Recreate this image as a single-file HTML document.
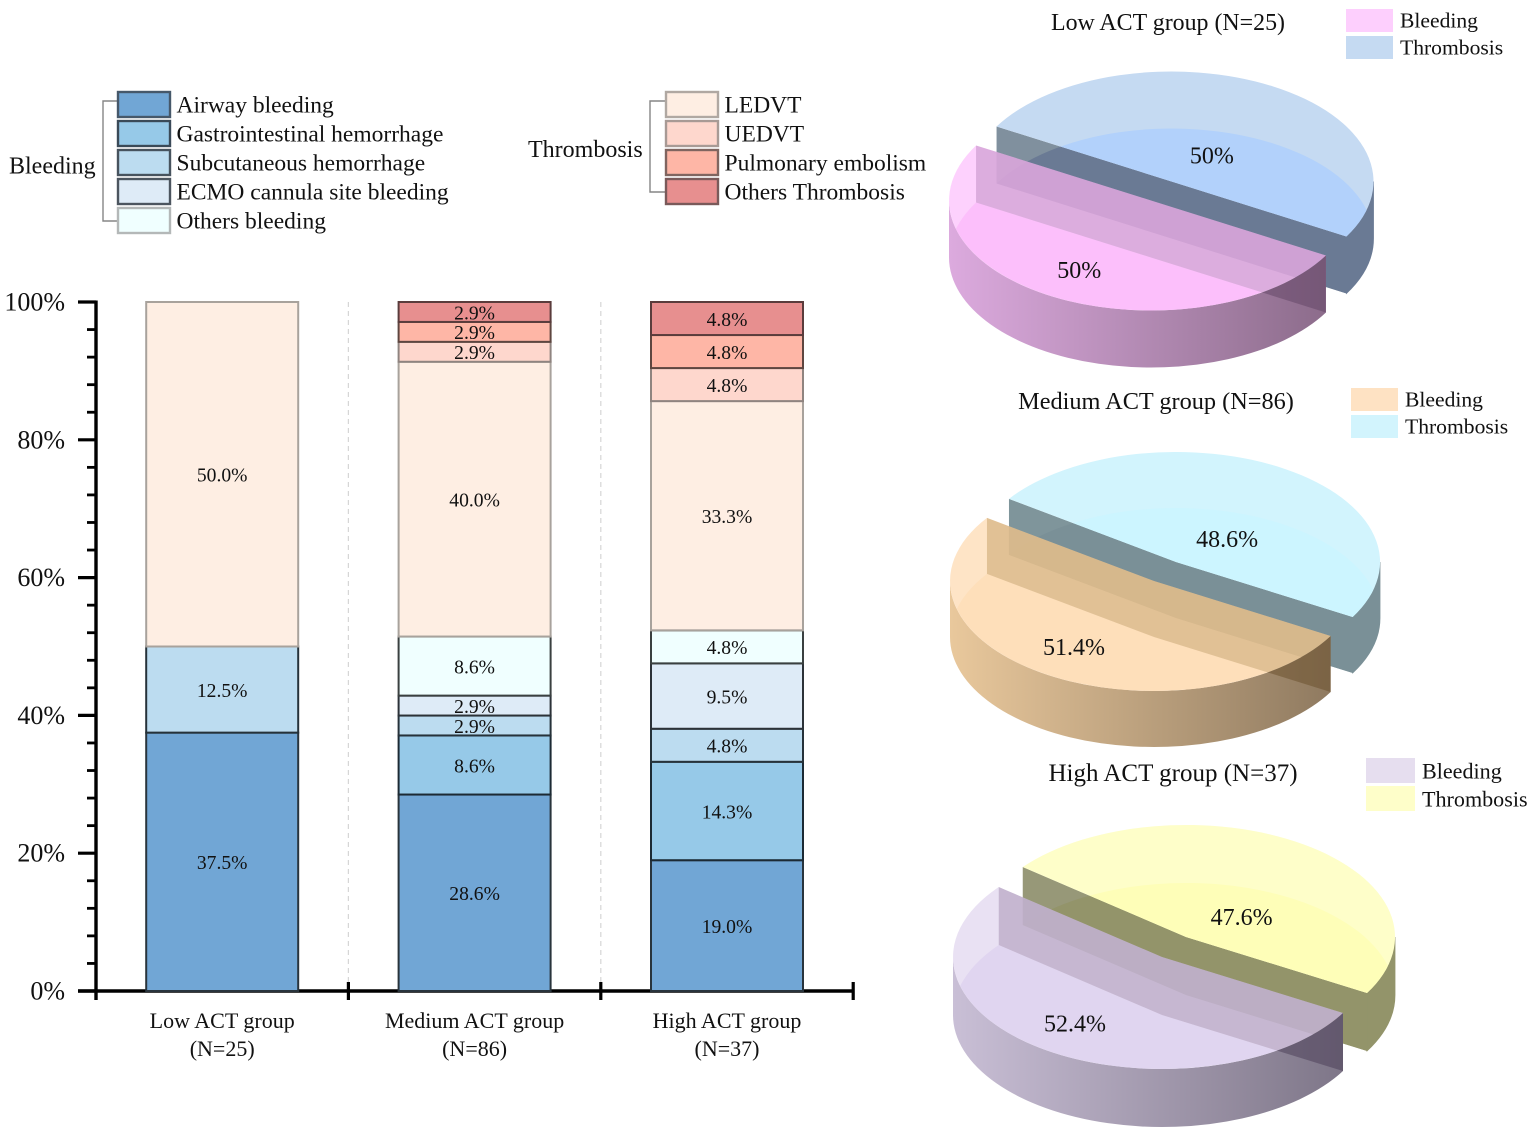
<!DOCTYPE html>
<html lang="en">
<head>
<meta charset="utf-8">
<title>Bleeding and thrombosis by ACT group</title>
<style>
html,body{margin:0;padding:0;background:#fff;}
svg{display:block;font-family:"Liberation Serif","Times New Roman",serif;fill:#111;filter:blur(.3px);}
</style>
</head>
<body>
<svg id="chart" xmlns="http://www.w3.org/2000/svg" width="1535" height="1138" viewBox="0 0 1535 1138"></svg>
<script>
// ---- stacked bar data ----
const categories = ['Low ACT group', 'Medium ACT group', 'High ACT group'];
const categoryCounts = ['(N=25)', '(N=86)', '(N=37)'];
const airwayBleeding = [37.5, 28.6, 19.0];
const gastrointestinalHemorrhage = [0, 8.6, 14.3];
const subcutaneousHemorrhage = [12.5, 2.9, 4.8];
const ecmoCannulaBleeding = [0, 2.9, 9.5];
const othersBleeding = [0, 8.6, 4.8];
const ledvt = [50.0, 40.0, 33.3];
const uedvt = [0, 2.9, 4.8];
const pulmonaryEmbolism = [0, 2.9, 4.8];
const othersThrombosis = [0, 2.9, 4.8];
const yTickValues = [0, 20, 40, 60, 80, 100];
const yMinorTickValues = [4, 8, 12, 16, 24, 28, 32, 36, 44, 48, 52, 56, 64, 68, 72, 76, 84, 88, 92, 96];
const bleedingLegendLabels = ['Airway bleeding', 'Gastrointestinal hemorrhage', 'Subcutaneous hemorrhage', 'ECMO cannula site bleeding', 'Others bleeding'];
const thrombosisLegendLabels = ['LEDVT', 'UEDVT', 'Pulmonary embolism', 'Others Thrombosis'];
// ---- pie data ----
const pieTitles = ['Low ACT group (N=25)', 'Medium ACT group (N=86)', 'High ACT group (N=37)'];
const pieBleedingShare = [50, 51.4, 52.4];
const pieThrombosisShare = [50, 48.6, 47.6];
const pieLegendLabels = ['Bleeding', 'Thrombosis'];

const stackSeries = [airwayBleeding, gastrointestinalHemorrhage, subcutaneousHemorrhage, ecmoCannulaBleeding, othersBleeding, ledvt, uedvt, pulmonaryEmbolism, othersThrombosis];
const stackNames = ['airway-bleeding', 'gastrointestinal-hemorrhage', 'subcutaneous-hemorrhage', 'ecmo-cannula-bleeding', 'others-bleeding', 'ledvt', 'uedvt', 'pulmonary-embolism', 'others-thrombosis'];
const stackFills = ['#71a6d5', '#96c9e8', '#bcdcf0', '#deebf7', '#f0ffff', '#feeee3', '#fed7cd', '#feb6a6', '#e78f8f'];
const stackStrokes = ['#29343c', '#1c2a34', '#26323a', '#2c3238', '#3a4040', '#a8a29c', '#8f8480', '#5e4640', '#5a3c3c'];
const legendStrokes = ['#46586a', '#3a4a58', '#47535e', '#4c555f', '#b4b8b8', '#b0a8a2', '#a89a95', '#806560', '#7a5a5a'];

const NS = 'http://www.w3.org/2000/svg';
const svg = document.getElementById('chart');
function mk(tag, attrs, parent) {
  const el = document.createElementNS(NS, tag);
  for (const k in attrs) el.setAttribute(k, attrs[k]);
  (parent || svg).appendChild(el);
  return el;
}
function txt(str, attrs, parent) {
  const el = mk('text', attrs, parent);
  el.textContent = str;
  return el;
}

// ---- axes ----
const Y0 = 991, Y100 = 302, XL = 96, BAND = 252.4, BARW = 152;
function yScale(v) { return Y0 - (Y0 - Y100) * v / 100; }
function xCenter(i) { return XL + BAND * (i + 0.5); }
function xEdge(i) { return XL + BAND * i; }

const axisGroup = mk('g', {});



// dashed separators
for (let i = 1; i < categories.length; i++) {
  const sep = mk('line', {x1: xEdge(i), x2: xEdge(i), y1: Y100, y2: Y0, stroke: '#d6d6d6', 'stroke-width': 1.2, 'stroke-dasharray': '5 4'}, axisGroup);
  
  
}

// bars
const barsGroup = mk('g', {});


categories.forEach(function (cat, c) {
  let total = 0;
  stackSeries.forEach(function (s) { total += s[c]; });
  let cum = 0;
  const x = xCenter(c) - BARW / 2;
  const labelItems = [];
  stackSeries.forEach(function (s, k) {
    const v = s[c];
    if (!v) return;
    const v0 = cum / total * 100;
    cum += v;
    const v1 = cum / total * 100;
    const rect = mk('rect', {x: x, y: yScale(v1), width: BARW, height: yScale(v0) - yScale(v1), fill: stackFills[k], stroke: stackStrokes[k], 'stroke-width': 2}, barsGroup);
    
    
    labelItems.push({v: v, y: (yScale(v0) + yScale(v1)) / 2, k: k});
  });
  labelItems.forEach(function (it) {
    const t = txt(it.v.toFixed(1) + '%', {x: xCenter(c), y: it.y + 7.3, 'text-anchor': 'middle', 'font-size': 19.6}, barsGroup);
    
    
  });
});

// axis lines and ticks
const yAxis = mk('line', {x1: XL, x2: XL, y1: Y100 - 1.5, y2: Y0 + 9, stroke: '#000', 'stroke-width': 3.4}, axisGroup);


const xAxis = mk('line', {x1: 78, x2: xEdge(categories.length) + 1, y1: Y0, y2: Y0, stroke: '#000', 'stroke-width': 3.4}, axisGroup);


yTickValues.forEach(function (v) {
  const tick = mk('line', {x1: 78, x2: XL, y1: yScale(v), y2: yScale(v), stroke: '#000', 'stroke-width': 3.2}, axisGroup);
  
  
  const lab = txt(v + '%', {x: 65, y: yScale(v) + 8.5, 'text-anchor': 'end', 'font-size': 26}, axisGroup);
  
  
});
yMinorTickValues.forEach(function (v) {
  const tick = mk('line', {x1: 87, x2: XL, y1: yScale(v), y2: yScale(v), stroke: '#000', 'stroke-width': 2.8}, axisGroup);
  
  
});
for (let i = 1; i <= categories.length; i++) {
  const tick = mk('line', {x1: xEdge(i), x2: xEdge(i), y1: Y0 - 9, y2: Y0 + 9, stroke: '#000', 'stroke-width': 3.2}, axisGroup);
  
  
}
categories.forEach(function (cat, c) {
  const t1 = txt(cat, {x: xCenter(c), y: 1028, 'text-anchor': 'middle', 'font-size': 22}, axisGroup);
  
  
  const t2 = txt(categoryCounts[c], {x: xCenter(c), y: 1056, 'text-anchor': 'middle', 'font-size': 22}, axisGroup);
  
  
});

// ---- stacked legends ----
function drawLegend(labels, fillOffset, swatchX, textX, bracketX, heading, headingX, headingY) {
  const g = mk('g', {});
  
  
  const top = 92, step = 29, h = 25, w = 52;
  const yFirst = top + 9, yLast = top + step * (labels.length - 1) + 13;
  const br = mk('path', {d: 'M' + (swatchX) + ' ' + yFirst + 'H' + bracketX + 'V' + yLast + 'H' + swatchX, fill: 'none', stroke: '#858585', 'stroke-width': 1.4}, g);
  
  
  labels.forEach(function (label, i) {
    const sw = mk('rect', {x: swatchX, y: top + step * i, width: w, height: h, fill: stackFills[fillOffset + i], stroke: legendStrokes[fillOffset + i], 'stroke-width': 2.4}, g);
    
    
    const t = txt(label, {x: textX - 0.5, y: top + step * i + 20.5, 'font-size': 23.5}, g);
    
    
  });
  const head = txt(heading, {x: headingX, y: headingY, 'font-size': 24}, g);
  
  
}
drawLegend(bleedingLegendLabels, 0, 118, 177, 103, 'Bleeding', 9, 173.5);
drawLegend(thrombosisLegendLabels, 5, 666, 725, 650, 'Thrombosis', 528, 157);

// ---- 3D pies ----
const defs = mk('defs', {});
const CUT_ANGLE = 30;
const pieFrames = [
  {up: [1171.5, 181.5], low: [1151, 200.5], rx: 202, ry: 110, h: 57, titleSize: 23.9, legSize: 21.6, tDx: -3, tDy: -2, bDx: 2, bDy: 1,
   titleX: 1168, titleY: 30, legX: 1346, legW: 47, legH: 23, legY: [9, 36], legTextX: 1400, legTextY: [27.5, 54.5]},
  {up: [1176, 562], low: [1154, 581], rx: 204, ry: 110, h: 56, titleSize: 24.3, legSize: 21.6, tDx: 4, tDy: 0, bDx: 0, bDy: -1,
   titleX: 1156, titleY: 409, legX: 1351, legW: 47, legH: 23, legY: [388, 415], legTextX: 1405, legTextY: [406.5, 433.5]},
  {up: [1186, 937], low: [1162, 957], rx: 209, ry: 112, h: 58, titleSize: 25, legSize: 22.1, tDx: 5, tDy: 3, bDx: -1, bDy: 0,
   titleX: 1173, titleY: 781, legX: 1366, legW: 49, legH: 25, legY: [758, 786], legTextX: 1422, legTextY: [778.5, 806.5]}
];
const piePalettes = [
  {upTop: '#c5daf2', upInner: '#b2d1fb', upWall: '#6a7a94', upWallLight: '#80909e',
   lowTop: 'rgba(253,203,253,.88)', lowInner: 'rgba(240,88,233,.15)', gradA: '#dcaade', gradB: '#8c6c8b', cut: 'rgba(143,88,150,.3)', cutDark: 'rgba(60,50,60,.28)', legend: ['#fdcffd', '#c5daf2']},
  {upTop: '#d2f4fd', upInner: '#ccf5ff', upWall: '#7a9097', upWallLight: '#7f959b',
   lowTop: 'rgba(254,224,190,.88)', lowInner: 'rgba(254,190,110,.14)', gradA: '#e9c89c', gradB: '#8f7a60', cut: 'rgba(160,113,35,.3)', cutDark: 'rgba(60,50,45,.28)', legend: ['#fee2c3', '#d2f4fd']},
  {upTop: '#fefec9', upInner: '#fefeb8', upWall: '#93946a', upWallLight: '#979878',
   lowTop: 'rgba(230,221,241,.88)', lowInner: 'rgba(170,140,220,.14)', gradA: '#c9bfd6', gradB: '#7e7688', cut: 'rgba(115,87,130,.3)', cutDark: 'rgba(40,40,50,.28)', legend: ['#e6deef', '#fefec9']}
];
function pt(c, f, deg, dy) {
  const a = deg * Math.PI / 180;
  return [c[0] + f.rx * Math.cos(a), c[1] + f.ry * Math.sin(a) + (dy || 0)];
}
function P(p) { return p[0].toFixed(2) + ' ' + p[1].toFixed(2); }
function sectorPath(c, f, a0, a1, dy) {
  const large = Math.abs(a1 - a0) > 180 ? 1 : 0;
  const sweep = a1 > a0 ? 1 : 0;
  return 'M' + P([c[0], c[1] + (dy || 0)]) + 'L' + P(pt(c, f, a0, dy)) + 'A' + f.rx + ' ' + f.ry + ' 0 ' + large + ' ' + sweep + ' ' + P(pt(c, f, a1, dy)) + 'Z';
}
function cutWallPath(c, f, a0, a1) {
  return 'M' + P(pt(c, f, a1)) + 'L' + P(c) + 'L' + P(pt(c, f, a0)) + 'L' + P(pt(c, f, a0, f.h)) + 'L' + P([c[0], c[1] + f.h]) + 'L' + P(pt(c, f, a1, f.h)) + 'Z';
}
function rimWallPath(c, f, a0, a1) {
  const sweep = a1 > a0 ? 1 : 0;
  return 'M' + P(pt(c, f, a0)) + 'A' + f.rx + ' ' + f.ry + ' 0 0 ' + sweep + ' ' + P(pt(c, f, a1)) +
    'L' + P(pt(c, f, a1, f.h)) + 'A' + f.rx + ' ' + f.ry + ' 0 0 ' + (1 - sweep) + ' ' + P(pt(c, f, a0, f.h)) + 'Z';
}
function clipOf(id, d) {
  const cp = mk('clipPath', {id: id}, defs);
  mk('path', {d: d}, cp);
  return 'url(#' + id + ')';
}
function namedPath(group, d, fill, name, extra) {
  const attrs = {d: d, fill: fill};
  if (extra) for (const k in extra) attrs[k] = extra[k];
  const el = mk('path', attrs, group);
  
  
  return el;
}
function shareLabel(v) { return (Number.isInteger(v) ? v : v.toFixed(1)) + '%'; }

pieTitles.forEach(function (title, i) {
  const f = pieFrames[i], pal = piePalettes[i];
  const g = mk('g', {});
  
  

  const tShare = pieThrombosisShare[i], bShare = pieBleedingShare[i];
  const tEnd = CUT_ANGLE - tShare * 3.6;
  const bEnd = CUT_ANGLE + bShare * 3.6;

  // Thrombosis wedge (upper)
  const upG = mk('g', {}, g);
  
  
  const upCut = cutWallPath(f.up, f, CUT_ANGLE, tEnd);
  namedPath(upG, upCut, pal.upWallLight, 'thrombosis-cut-wall');
  const upBase = sectorPath(f.up, f, CUT_ANGLE, tEnd, f.h);
  namedPath(upG, upBase, pal.upWall, 'thrombosis-cut-wall-shade', {'clip-path': clipOf('upcut' + i, upCut)});
  namedPath(upG, rimWallPath(f.up, f, CUT_ANGLE, Math.max(0, tEnd)), pal.upWall, 'thrombosis-outer-wall', {stroke: pal.upWall, 'stroke-width': 0.8});
  const upTop = sectorPath(f.up, f, CUT_ANGLE, tEnd);
  namedPath(upG, upTop, pal.upTop, 'thrombosis-top-face');
  namedPath(upG, upBase, pal.upInner, 'thrombosis-inner-face', {'clip-path': clipOf('uptop' + i, upTop)});

  // Bleeding wedge (lower, translucent)
  const grad = mk('linearGradient', {id: 'wallgrad' + i, gradientUnits: 'userSpaceOnUse', x1: f.low[0] - f.rx, x2: pt(f.low, f, CUT_ANGLE)[0], y1: 0, y2: 0}, defs);
  mk('stop', {offset: 0, 'stop-color': pal.gradA}, grad);
  mk('stop', {offset: 1, 'stop-color': pal.gradB}, grad);

  const lowG = mk('g', {}, g);
  
  
  const rim = rimWallPath(f.low, f, CUT_ANGLE, Math.min(180, bEnd));
  namedPath(lowG, rim, 'url(#wallgrad' + i + ')', 'bleeding-outer-wall');
  const lowTop = sectorPath(f.low, f, CUT_ANGLE, bEnd);
  namedPath(lowG, lowTop, pal.lowTop, 'bleeding-top-face');
  const lowBase = sectorPath(f.low, f, CUT_ANGLE, bEnd, f.h);
  namedPath(lowG, lowBase, pal.lowInner, 'bleeding-inner-face', {'clip-path': clipOf('lowtop' + i, lowTop)});
  const lowCut = cutWallPath(f.low, f, CUT_ANGLE, bEnd);
  namedPath(lowG, lowCut, pal.cut, 'bleeding-cut-wall');
  namedPath(lowG, lowCut, pal.cutDark, 'bleeding-cut-wall-shade', {'clip-path': clipOf('lowrim' + i, rim)});

  // percentage labels placed along each slice's mid angle
  const tMid = (CUT_ANGLE + tEnd) / 2 * Math.PI / 180;
  const bMid = (CUT_ANGLE + bEnd) / 2 * Math.PI / 180;
  const tL = txt(shareLabel(tShare), {x: f.up[0] + f.rx * 0.43 * Math.cos(tMid) + f.tDx, y: f.up[1] + f.ry * 0.25 * Math.sin(tMid) + 8 + f.tDy, 'text-anchor': 'middle', 'font-size': 24}, g);
  
  
  const bL = txt(shareLabel(bShare), {x: f.low[0] + f.rx * 0.73 * Math.cos(bMid) + f.bDx, y: f.low[1] + f.ry * 0.72 * Math.sin(bMid) + 8 + f.bDy, 'text-anchor': 'middle', 'font-size': 24}, g);
  
  

  // title
  const tt = txt(title, {x: f.titleX, y: f.titleY, 'text-anchor': 'middle', 'font-size': f.titleSize}, g);
  
  

  // legend
  pieLegendLabels.forEach(function (label, k) {
    const sw = mk('rect', {x: f.legX, y: f.legY[k], width: f.legW, height: f.legH, fill: pal.legend[k]}, g);
    
    
    const lt = txt(label, {x: f.legTextX, y: f.legTextY[k], 'font-size': f.legSize}, g);
    
    
  });
});
</script>
</body>
</html>
